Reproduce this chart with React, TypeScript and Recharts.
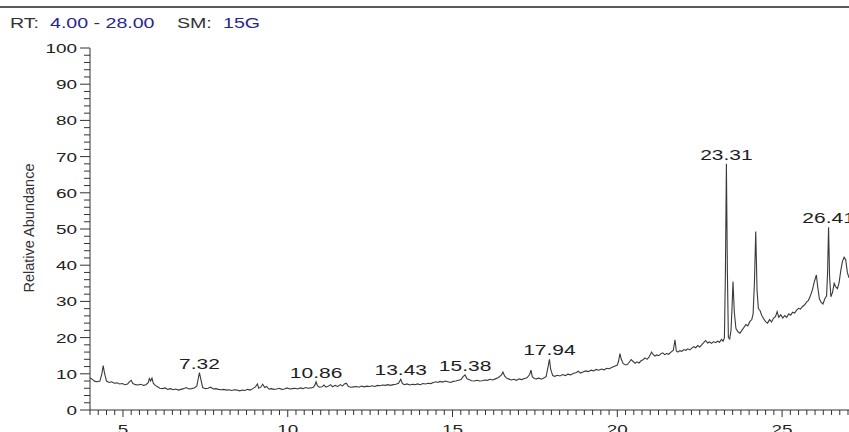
import React from "react";
import { ComposedChart, Line, Scatter, XAxis, YAxis } from "recharts";

// retention time (min), relative abundance (%)
const traceEarly: [number, number][] = [
  [4.0, 8.9], [4.08, 8.4], [4.15, 7.9], [4.22, 7.8], [4.3, 8.0], [4.36, 10.0], [4.4, 12.3], [4.44, 10.2],
  [4.5, 8.0], [4.58, 7.6], [4.66, 7.8], [4.74, 7.4], [4.82, 7.5], [4.9, 7.2], [4.98, 7.3], [5.06, 7.0],
  [5.14, 7.2], [5.21, 7.9], [5.25, 8.2], [5.3, 7.3], [5.38, 7.0], [5.46, 6.9], [5.54, 7.1], [5.62, 6.8],
  [5.7, 7.0], [5.77, 7.6], [5.8, 8.7], [5.84, 8.0], [5.88, 8.8], [5.92, 7.4], [5.98, 6.8], [6.05, 6.4],
  [6.12, 6.0], [6.2, 5.9], [6.28, 6.1], [6.36, 5.7], [6.44, 5.9], [6.52, 5.6], [6.6, 5.8], [6.68, 5.5],
  [6.76, 5.7], [6.84, 5.9], [6.92, 6.2], [7.0, 5.8], [7.08, 5.9], [7.16, 6.1], [7.24, 6.6], [7.28, 8.5],
  [7.32, 10.3], [7.36, 8.6], [7.42, 6.2], [7.5, 5.9], [7.58, 6.0], [7.66, 6.3], [7.74, 5.8], [7.82, 5.9],
  [7.9, 5.7], [7.98, 5.6], [8.06, 5.7], [8.14, 5.5], [8.22, 5.6], [8.3, 5.4], [8.38, 5.6], [8.46, 5.5],
  [8.54, 5.3], [8.62, 5.5], [8.7, 5.4], [8.78, 5.7], [8.86, 5.5], [8.94, 5.9], [9.02, 6.4], [9.08, 7.2],
  [9.12, 6.0], [9.18, 6.3], [9.24, 7.1], [9.3, 6.2], [9.36, 6.5], [9.42, 5.8], [9.5, 5.9], [9.58, 5.7],
  [9.66, 5.8], [9.74, 6.0], [9.82, 5.7], [9.9, 5.8], [9.98, 6.1], [10.06, 5.8], [10.14, 5.9], [10.22, 6.0],
  [10.3, 5.8], [10.38, 6.1], [10.46, 5.9], [10.54, 6.2], [10.62, 6.0], [10.7, 6.1], [10.78, 6.3],
  [10.83, 7.0], [10.86, 7.8], [10.9, 6.7], [10.96, 6.3], [11.04, 6.4], [11.1, 6.9], [11.16, 6.3],
  [11.24, 6.6], [11.3, 7.0], [11.36, 6.4], [11.44, 6.8], [11.52, 6.5], [11.6, 7.0], [11.66, 6.6],
  [11.72, 7.2], [11.78, 7.4], [11.84, 6.5], [11.92, 6.3], [12.0, 6.4],
];

const traceMiddle: [number, number][] = [
  [12.08, 6.5], [12.16, 6.3], [12.24, 6.6], [12.32, 6.4], [12.4, 6.6], [12.48, 6.5], [12.56, 6.7],
  [12.64, 6.5], [12.72, 6.8], [12.8, 6.7], [12.88, 6.9], [12.96, 6.8], [13.04, 7.0], [13.12, 6.8],
  [13.2, 7.0], [13.28, 7.1], [13.36, 7.4], [13.43, 8.5], [13.48, 7.3], [13.54, 7.0], [13.62, 7.2],
  [13.7, 6.9], [13.78, 7.1], [13.86, 7.0], [13.94, 7.2], [14.02, 7.0], [14.1, 7.3], [14.18, 7.2],
  [14.26, 7.4], [14.34, 7.3], [14.42, 7.6], [14.5, 7.8], [14.56, 7.6], [14.62, 7.9], [14.7, 7.7],
  [14.78, 8.0], [14.86, 7.8], [14.94, 7.6], [15.02, 7.9], [15.1, 8.0], [15.18, 8.2], [15.26, 8.4],
  [15.32, 9.2], [15.38, 9.7], [15.44, 8.6], [15.5, 8.4], [15.58, 8.1], [15.66, 8.0], [15.74, 8.2],
  [15.82, 8.0], [15.9, 8.1], [15.98, 8.3], [16.06, 8.2], [16.14, 8.5], [16.22, 8.3], [16.3, 8.6],
  [16.38, 8.9], [16.48, 9.6], [16.53, 10.5], [16.58, 9.4], [16.64, 8.8], [16.7, 8.6], [16.78, 8.3],
  [16.86, 8.5], [16.94, 8.2], [17.02, 8.6], [17.1, 8.4], [17.18, 8.7], [17.26, 8.9], [17.34, 9.8],
  [17.38, 11.0], [17.42, 9.2], [17.48, 8.7], [17.54, 8.6], [17.62, 8.8], [17.7, 8.5], [17.78, 8.9],
  [17.84, 9.2], [17.9, 12.0], [17.94, 14.0], [17.98, 11.2], [18.04, 9.5], [18.1, 9.3], [18.18, 9.6],
  [18.26, 9.4], [18.34, 9.8], [18.42, 9.5], [18.5, 9.9], [18.58, 9.7], [18.66, 10.1], [18.74, 10.3],
  [18.82, 10.7], [18.88, 10.2], [18.96, 10.5], [19.04, 10.8], [19.12, 10.6], [19.2, 11.0], [19.28, 10.8],
  [19.36, 11.2], [19.44, 11.0], [19.52, 11.3], [19.6, 11.1], [19.68, 11.5], [19.76, 11.4], [19.84, 11.8],
  [19.92, 12.1], [20.0, 12.4], [20.04, 13.6], [20.08, 15.6], [20.12, 14.0], [20.18, 12.8], [20.24, 12.5],
];

const traceLate: [number, number][] = [
  [20.3, 12.5], [20.36, 13.2], [20.42, 13.9], [20.48, 13.4], [20.54, 12.9], [20.6, 13.3], [20.66, 13.0],
  [20.72, 13.6], [20.78, 13.9], [20.84, 14.4], [20.9, 14.0], [20.96, 14.6], [21.04, 16.0], [21.08, 15.4],
  [21.14, 14.9], [21.2, 15.2], [21.26, 15.0], [21.32, 15.5], [21.38, 15.8], [21.44, 15.3], [21.5, 15.6],
  [21.56, 15.4], [21.62, 15.9], [21.7, 16.5], [21.75, 19.4], [21.79, 16.3], [21.84, 16.0], [21.9, 16.4],
  [21.96, 16.2], [22.02, 16.7], [22.08, 16.5], [22.14, 16.9], [22.2, 16.6], [22.26, 17.1], [22.32, 17.5],
  [22.38, 17.2], [22.44, 17.8], [22.5, 17.4], [22.56, 18.0], [22.62, 18.6], [22.68, 19.2], [22.74, 18.5],
  [22.8, 18.8], [22.86, 18.4], [22.92, 18.9], [22.98, 18.6], [23.04, 19.0], [23.1, 18.7], [23.16, 19.5],
  [23.21, 19.0], [23.25, 20.0], [23.28, 38.0], [23.31, 68.0], [23.34, 38.0], [23.37, 20.0], [23.41, 19.6],
  [23.45, 22.0], [23.48, 28.0], [23.51, 35.5], [23.55, 27.0], [23.6, 22.5], [23.66, 21.6], [23.72, 21.2],
  [23.78, 22.0], [23.84, 22.8], [23.9, 23.6], [23.96, 23.2], [24.02, 24.4], [24.08, 25.0], [24.12, 26.5],
  [24.16, 35.0], [24.2, 49.3], [24.24, 33.0], [24.28, 28.0], [24.33, 27.5], [24.38, 26.2], [24.44, 25.2],
  [24.5, 24.4], [24.56, 24.0], [24.62, 25.0], [24.68, 24.3], [24.74, 25.4], [24.8, 25.8], [24.85, 27.2],
  [24.9, 25.6], [24.96, 26.3], [25.02, 25.4], [25.08, 26.1], [25.14, 25.6], [25.2, 26.6], [25.26, 26.2],
  [25.32, 27.0], [25.38, 26.8], [25.44, 27.6], [25.5, 28.1], [25.56, 27.9], [25.62, 28.6], [25.68, 29.0],
  [25.74, 29.8], [25.8, 30.3], [25.86, 31.6], [25.92, 33.2], [25.98, 35.5], [26.04, 37.3], [26.08, 34.0],
  [26.13, 30.8], [26.18, 29.8], [26.24, 29.3], [26.3, 30.8], [26.35, 31.5], [26.38, 38.0], [26.41, 50.5],
  [26.44, 37.0], [26.48, 31.3], [26.53, 32.5], [26.58, 35.0], [26.63, 34.0], [26.68, 33.5], [26.73, 35.2],
  [26.78, 38.5], [26.83, 41.0], [26.88, 42.2], [26.93, 41.5], [26.98, 38.0], [27.03, 36.5],
];

const peakTimes = [7.32, 10.86, 13.43, 15.38, 17.94, 23.31, 26.41];
const yTicks = Array.from({ length: 51 }, (_, i) => i * 2);
const yTickLabels = [0, 10, 20, 30, 40, 50, 60, 70, 80, 90, 100];
const xTicks = Array.from({ length: 93 }, (_, i) => 4 + i * 0.25);
const xTickLabels = [5, 10, 15, 20, 25];

const trace = [...traceEarly, ...traceMiddle, ...traceLate].map(([t, v]) => ({ t, v }));
const peaks = peakTimes.map((t) => ({ t, v: trace.find((p) => p.t === t)?.v ?? 0 }));

const FONT = "'Liberation Sans', Arial, sans-serif";
const STRETCH = 1.4;

function YTick({ x, y, payload }: any) {
  const major = yTickLabels.includes(payload.value);
  return (
    <g>
      <line x1={x - (major ? 10 : 6)} x2={x} y1={y} y2={y} stroke="#333" strokeWidth={1} />
      {major && (
        <text
          transform={`translate(${x - 13},${y + 5}) scale(${STRETCH},1)`}
          textAnchor="end"
          fontFamily={FONT}
          fontSize={13.5}
          fill="#222"
        >
          {payload.value}
        </text>
      )}
    </g>
  );
}

function XTick({ x, y, payload }: any) {
  const major = xTickLabels.includes(payload.value);
  return (
    <g>
      <line x1={x} x2={x} y1={y} y2={y + (major ? 7 : 5)} stroke="#333" strokeWidth={1} />
      {major && (
        <text
          transform={`translate(${x},${y + 24}) scale(${STRETCH},1)`}
          textAnchor="middle"
          fontFamily={FONT}
          fontSize={13.5}
          fill="#222"
        >
          {payload.value}
        </text>
      )}
    </g>
  );
}

function PeakLabel({ cx, cy, payload }: any) {
  return (
    <text
      transform={`translate(${cx},${cy - 4}) scale(${STRETCH},1)`}
      textAnchor="middle"
      fontFamily={FONT}
      fontSize={15}
      fill="#1e1e1e"
    >
      {payload.t.toFixed(2)}
    </text>
  );
}

export default function App() {
  return (
    <div
      style={{
        position: "absolute",
        left: 0,
        top: 0,
        width: 849,
        height: 432,
        overflow: "hidden",
        background: "#fff",
      }}
    >
      <ComposedChart
        width={849}
        height={432}
        data={trace}
        margin={{ top: 48, right: 0, bottom: 0, left: 0 }}
        style={{ position: "absolute", left: 0, top: 0 }}
      >
        <XAxis
          dataKey="t"
          type="number"
          domain={[4, 27.03]}
          allowDataOverflow
          ticks={xTicks}
          interval={0}
          height={22}
          tickSize={0}
          tickMargin={0}
          tickLine={false}
          axisLine={{ stroke: "#333" }}
          tick={<XTick />}
        />
        <YAxis
          type="number"
          domain={[0, 100]}
          ticks={yTicks}
          interval={0}
          width={90}
          tickSize={0}
          tickMargin={0}
          tickLine={false}
          axisLine={{ stroke: "#333" }}
          tick={<YTick />}
        />
        <Line
          dataKey="v"
          type="linear"
          stroke="#3a3a3a"
          strokeWidth={1.1}
          dot={false}
          isAnimationActive={false}
        />
        <Scatter data={peaks} dataKey="v" shape={<PeakLabel />} isAnimationActive={false} />
      </ComposedChart>
      <svg
        width={849}
        height={432}
        style={{ position: "absolute", left: 0, top: 0, pointerEvents: "none" }}
      >
        <rect x={0} y={6} width={849} height={2} fill="#5a5a5a" />
        <g fontFamily={FONT} fontSize={14}>
          <text transform={`translate(10,28) scale(${STRETCH},1)`} fill="#333">RT:</text>
          <text transform={`translate(50,28) scale(${STRETCH},1)`} fill="#26268f">4.00 - 28.00</text>
          <text transform={`translate(177,28) scale(${STRETCH},1)`} fill="#333">SM:</text>
          <text transform={`translate(223,28) scale(${STRETCH},1)`} fill="#26268f">15G</text>
        </g>
        <text
          transform="translate(34,228) rotate(-90)"
          textAnchor="middle"
          fontFamily={FONT}
          fontSize={14.5}
          fill="#333"
        >
          Relative Abundance
        </text>
      </svg>
    </div>
  );
}
